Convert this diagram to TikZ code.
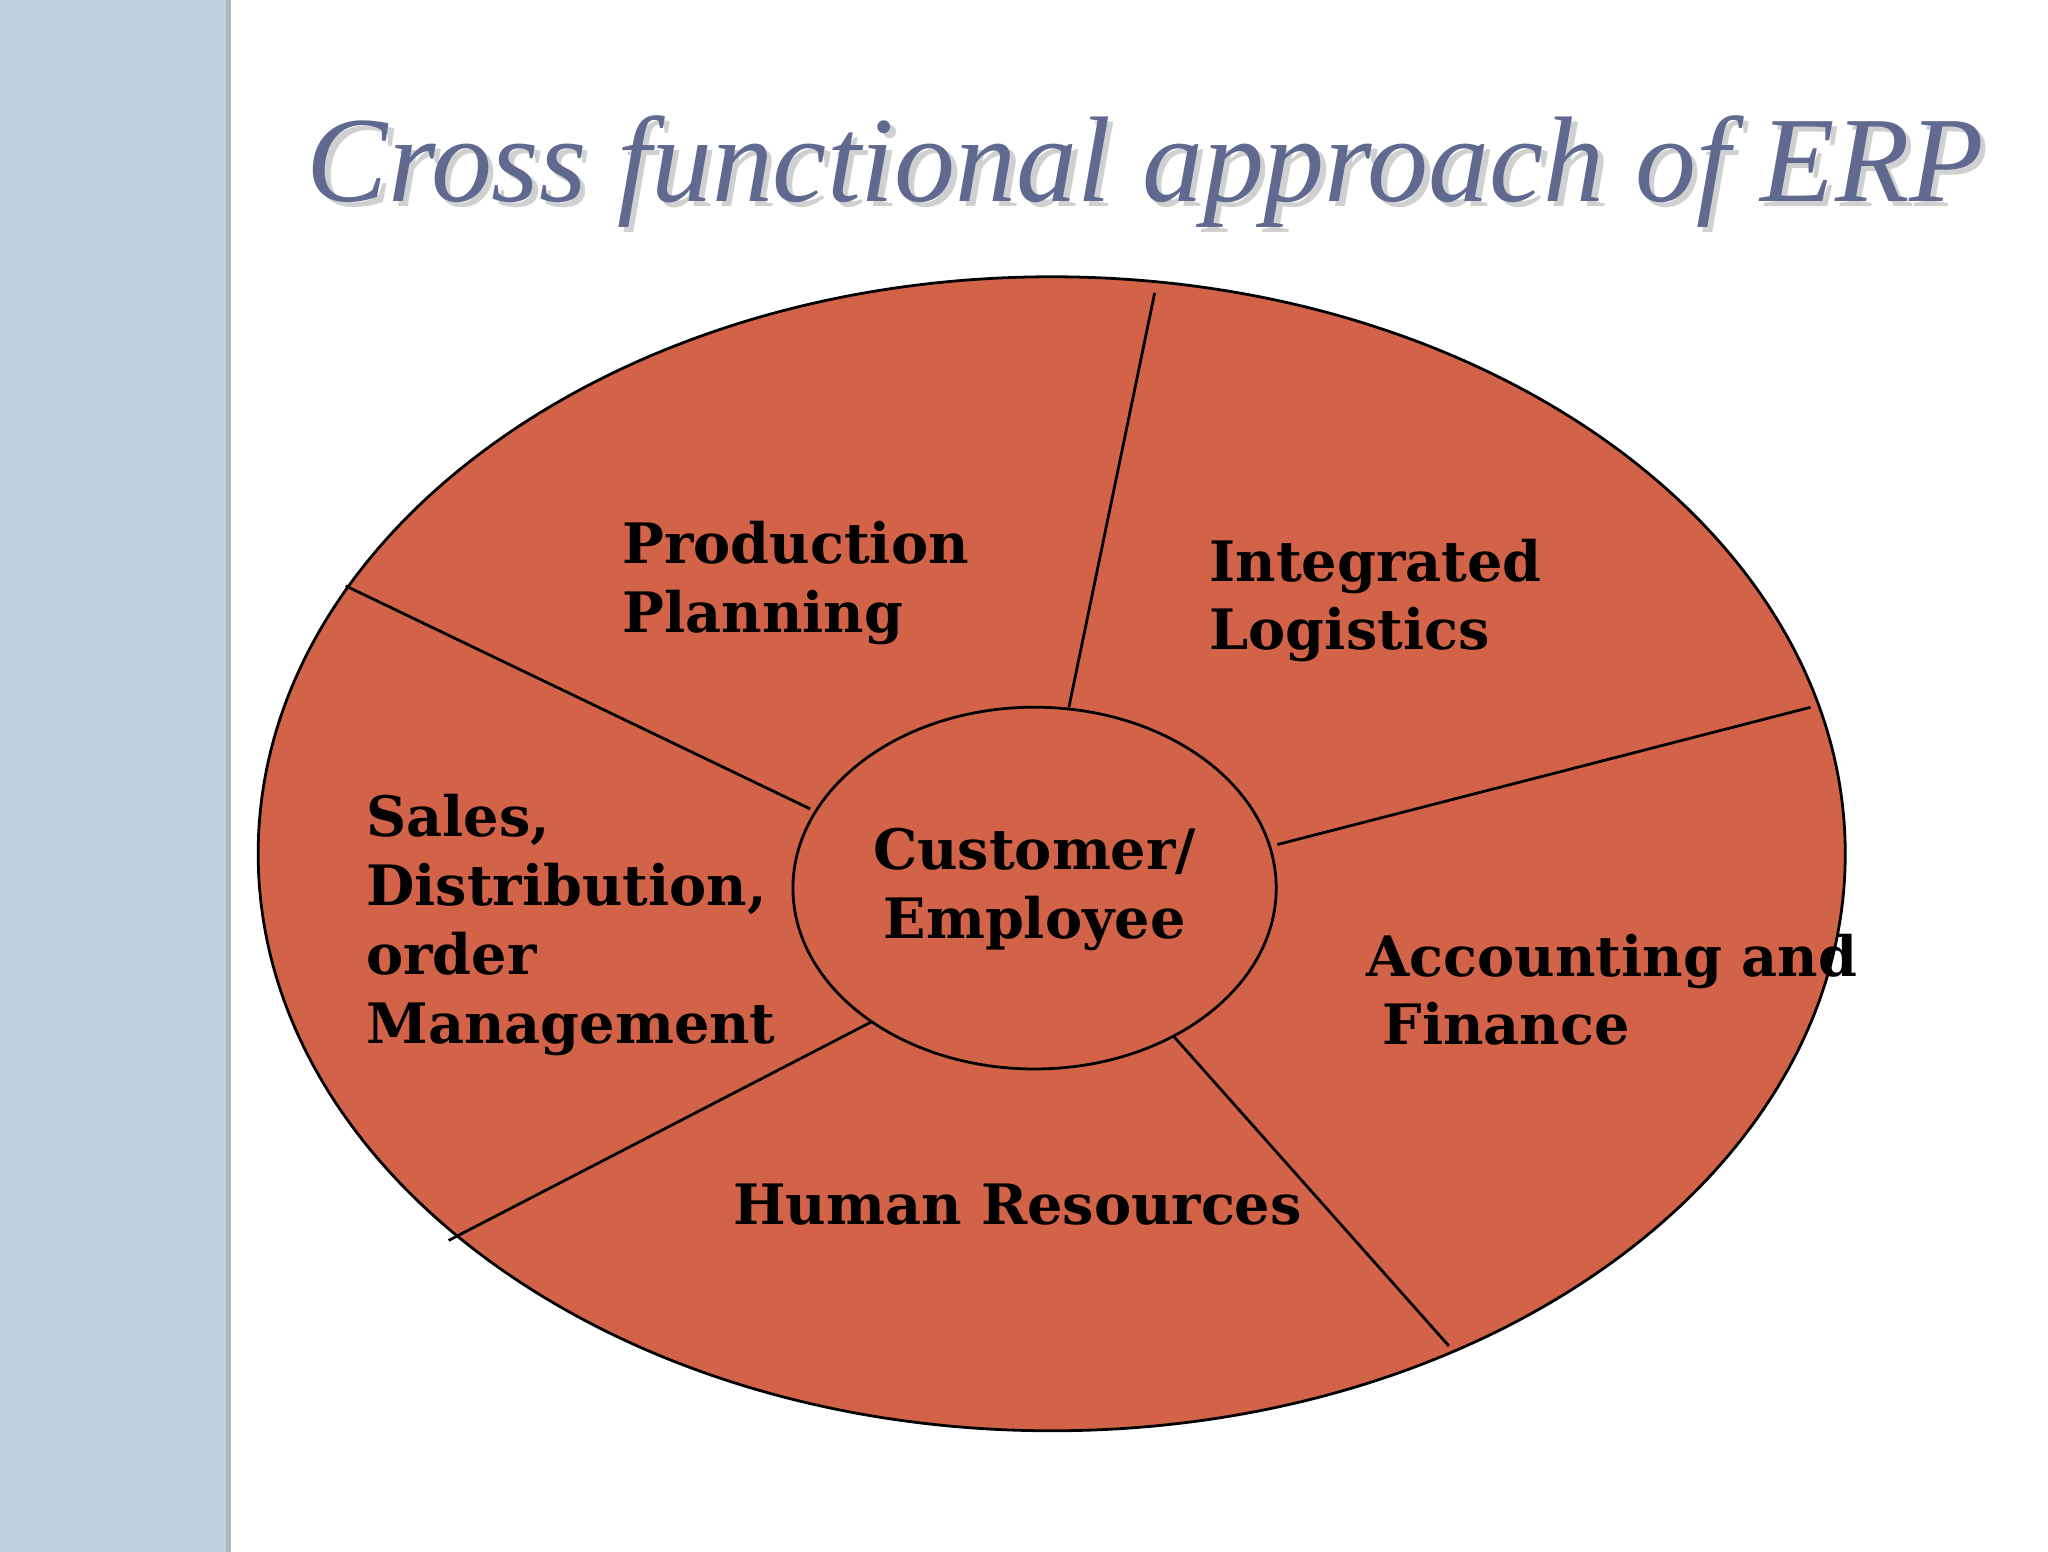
\documentclass[tikz,border=0pt]{standalone}
\usepackage{fontspec}
\usetikzlibrary{shapes.geometric}
\setmainfont{DejaVu Serif}
\newfontfamily\titlefont{Liberation Serif}
\begin{document}
\begin{tikzpicture}[x=1pt,y=-1pt,
  lbl/.style={font=\bfseries\fontsize{12}{14.8}\selectfont, align=left, inner sep=0pt},
  sep/.style={draw=black, line width=0.6pt}]
\definecolor{slice}{RGB}{210,99,73}
\definecolor{strip}{RGB}{188,208,223}
\definecolor{ttl}{RGB}{96,106,145}
\begin{scope}[x=0.01cm,y=-0.01cm]
\useasboundingbox (0,0) rectangle (1552,1176);
\fill[white] (0,0) rectangle (1552,1176);
\fill[strip] (0,0) rectangle (173,1176);
\draw[strip!70!gray, line width=1pt] (173,0) -- (173,1176);
\node[inner sep=0pt, gray!60, opacity=0.6] at (872,134) {\resizebox{12.7cm}{!}{\titlefont\itshape Cross functional approach of ERP}};
\node (title) [inner sep=0pt, ttl] at (868,130) {\resizebox{12.7cm}{!}{\titlefont\itshape Cross functional approach of ERP}};
\node (outer) [ellipse, draw=black, fill=slice, minimum width=12.02cm, minimum height=8.74cm, inner sep=0pt, line width=0.6pt] at (797,647) {};
\coordinate (a1) at (875,222); \coordinate (a2) at (810,536);
\coordinate (b1) at (262,444); \coordinate (b2) at (614,613);
\coordinate (c1) at (1372,536); \coordinate (c2) at (968,640);
\coordinate (d1) at (665,772); \coordinate (d2) at (340,940);
\coordinate (e1) at (890,786); \coordinate (e2) at (1098,1020);
\draw[sep] (a1)--(a2); \draw[sep] (b1)--(b2); \draw[sep] (c1)--(c2);
\draw[sep] (d1)--(d2); \draw[sep] (e1)--(e2);
\node (inner) [ellipse, draw=black, fill=slice, minimum width=3.66cm, minimum height=2.74cm, inner sep=0pt, line width=0.6pt] at (784,673) {};
\node (pp) [lbl, anchor=west] at (471,442) {Production\\Planning};
\node (il) [lbl, anchor=west] at (916,455) {Integrated\\Logistics};
\node (sd) [lbl, anchor=west] at (277,701) {Sales,\\Distribution,\\order\\Management};
\node (ce) [lbl, align=center] at (784,674) {Customer/\\Employee};
\node (af) [lbl, anchor=west] at (1035,750) {Accounting and\\\hspace{0.12cm}Finance};
\node (hr) [lbl] at (771,913) {Human Resources};
\end{scope}
\end{tikzpicture}
\end{document}
